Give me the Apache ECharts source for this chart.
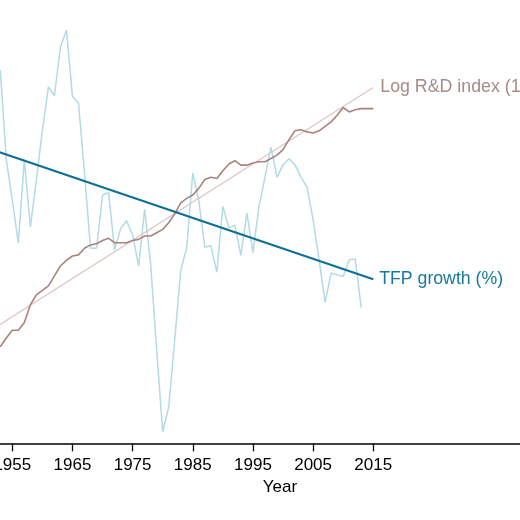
<!DOCTYPE html>
<html>
<head>
<meta charset="utf-8">
<script src="https://cdn.jsdelivr.net/npm/echarts@6/dist/echarts.min.js"></script>
<style>
html,body{margin:0;padding:0;background:#fff;}
#chart{width:520px;height:520px;}
</style>
</head>
<body>
<div id="chart"></div>
<script>
// Years
const years = [1953,1954,1955,1956,1957,1958,1959,1960,1961,1962,1963,1964,1965,1966,1967,1968,1969,1970,
  1971,1972,1973,1974,1975,1976,1977,1978,1979,1980,1981,1982,1983,1984,1985,1986,1987,1988,1989,1990,
  1991,1992,1993,1994,1995,1996,1997,1998,1999,2000,2001,2002,2003,2004,2005,2006,2007,2008,2009,2010,
  2011,2012,2013,2014,2015];

// TFP growth (%), 1953-2013
const tfpGrowth = [2.21,1.20,0.74,0.26,1.20,0.44,0.97,1.53,2.02,1.92,2.47,2.66,1.91,1.84,1.05,0.20,0.20,0.80,
  0.83,0.18,0.42,0.51,0.35,0.00,0.64,0.02,-0.95,-1.87,-1.59,-0.83,-0.05,0.21,1.05,0.74,0.21,0.23,-0.07,0.67,
  0.43,0.46,0.12,0.60,0.15,0.67,1.00,1.34,1.00,1.14,1.21,1.14,1.00,0.89,0.52,0.07,-0.41,-0.08,-0.10,-0.12,
  0.07,0.08,-0.47];

// Log R&D index, 1953-2015
const logRD = [3.87,3.95,4.02,4.02,4.09,4.25,4.34,4.38,4.42,4.51,4.60,4.65,4.69,4.70,4.76,4.79,4.80,4.83,
  4.85,4.81,4.81,4.81,4.83,4.84,4.87,4.87,4.90,4.93,4.99,5.07,5.17,5.21,5.24,5.30,5.38,5.40,5.39,5.46,
  5.52,5.55,5.51,5.51,5.53,5.54,5.54,5.57,5.60,5.65,5.74,5.82,5.83,5.81,5.80,5.82,5.86,5.90,5.96,6.03,
  5.99,6.01,6.02,6.02,6.02];

// Linear trends (endpoints)
const trendYears = [1950, 2015];
const tfpTrend = [1.35, -0.15];
const rdTrend = [3.97, 6.21];

// Axis tick labels
const tickYears = [1945,1955,1965,1975,1985,1995,2005,2015];

const labelTFP = 'TFP growth (%)';
const labelRD = 'Log R&D index (1950=1)';

const zip = (xs, ys) => ys.map((v, i) => [xs[i], v]);

const font = '"Liberation Sans", Arial, Helvetica, sans-serif';
const chart = echarts.init(document.getElementById('chart'), null, {renderer: 'canvas'});
chart.setOption({
  animation: false,
  backgroundColor: '#ffffff',
  grid: {left: -108, right: -148, top: 0, bottom: 76.7, containLabel: false, outerBoundsMode: 'none'},
  xAxis: {
    type: 'value', min: 1935, max: 2064,
    name: 'Year', nameLocation: 'middle', nameGap: 36,
    nameTextStyle: {color: '#000', fontSize: 17, fontFamily: font},
    axisLine: {show: true, onZero: false, lineStyle: {color: '#000', width: 1.5}},
    axisTick: {show: true, length: 8, customValues: tickYears, lineStyle: {color: '#000', width: 1.3}},
    axisLabel: {show: true, customValues: tickYears, margin: 14, color: '#000', fontSize: 17, fontFamily: font,
      formatter: v => String(v)},
    splitLine: {show: false}
  },
  yAxis: [
    {type: 'value', min: -2, max: 3, show: false},
    {type: 'value', min: 3, max: 7, show: false}
  ],
  series: [
    {name: 'TFP growth', type: 'line', yAxisIndex: 0, data: zip(years, tfpGrowth), symbol: 'none',
     lineStyle: {color: '#b3dae6', width: 1.5}},
    {name: labelRD, type: 'line', yAxisIndex: 1, data: zip(trendYears, rdTrend), symbol: 'none',
     lineStyle: {color: '#dac6c0', width: 1.2},
     endLabel: {show: true, formatter: labelRD, color: '#a58c87', fontSize: 17.8, fontFamily: font, distance: 7}},
    {name: 'Log R&D index', type: 'line', yAxisIndex: 1, data: zip(years, logRD), symbol: 'none',
     lineStyle: {color: '#a8847d', width: 1.6}},
    {name: labelTFP, type: 'line', yAxisIndex: 0, data: zip(trendYears, tfpTrend), symbol: 'none',
     lineStyle: {color: '#0e6f94', width: 2},
     endLabel: {show: true, formatter: labelTFP, color: '#17789c', fontSize: 17.7, fontFamily: font, distance: 6}}
  ]
});
</script>
</body>
</html>
